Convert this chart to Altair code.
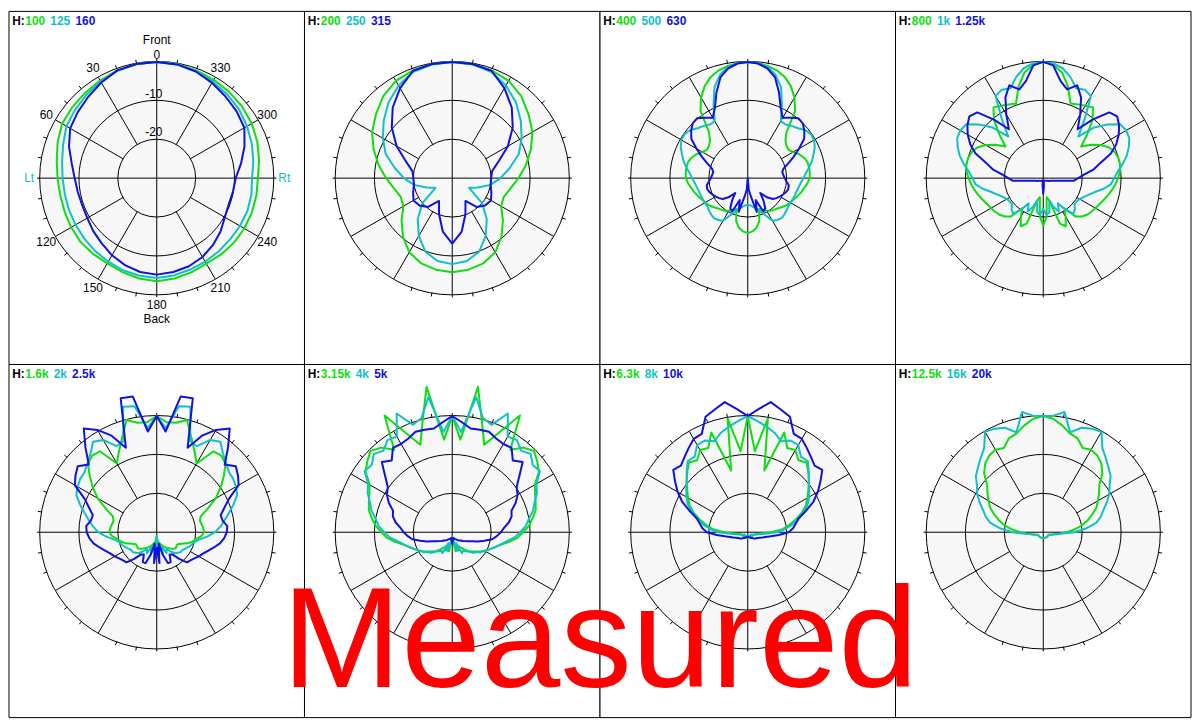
import math
import altair as alt
import pandas as pd

# ----------------------------------------------------------------- data
PANEL_FREQS = [
    ["100", "125", "160"],
    ["200", "250", "315"],
    ["400", "500", "630"],
    ["800", "1k", "1.25k"],
    ["1.6k", "2k", "2.5k"],
    ["3.15k", "4k", "5k"],
    ["6.3k", "8k", "10k"],
    ["12.5k", "16k", "20k"],
]

# Relative level in dB.
# Entry i is at angle i * 360 / len(list); 0 = Front, angles grow towards Lt.
DB_100 = [0, -0.1, -0.4, -0.9, -1.3, -1.6, -1.9, -2.9, -3.9, -4.5, -4.8, -4.8, -4.6, -4.4, -4.5, -4.6, -4.2, -3.7,
          -3.4, -3.7, -4.1, -4.5, -4.3, -4.1, -4.0, -4.0, -4.0, -4.0, -3.3, -2.5, -1.8, -1.3, -1.0, -0.7, -0.4, -0.1]
DB_125 = [0, -0.1, -0.5, -1.2, -1.9, -2.6, -3.2, -4.4, -5.3, -5.8, -6.0, -6.0, -5.9, -5.7, -5.4, -5.1, -4.7, -4.4,
          -4.2, -4.5, -4.9, -5.1, -5.3, -5.4, -5.3, -5.2, -5.3, -5.5, -4.8, -4.0, -3.2, -2.4, -1.8, -1.2, -0.6, -0.2]
DB_160 = [0, -0.1, -0.4, -1.5, -2.6, -3.5, -4.3, -6.0, -7.8, -8.9, -9.4, -9.6, -9.4, -8.7, -8.0, -7.0, -6.1, -5.4,
          -5.1, -5.4, -5.8, -6.5, -7.5, -8.6, -9.8, -10.3, -10.1, -9.7, -8.0, -6.0, -4.0, -3.2, -2.5, -1.6, -0.7, -0.2]

DB_200 = [0, -0.1, -0.4, -1.0, -2.4, -4.4, -6.2, -8.5, -10.8, -13.0, -14.8, -15.9, -15.5, -13.0, -10.3, -7.9, -6.6, -6.0,
          -5.7, -6.0, -6.6, -7.9, -10.3, -13.0, -15.5, -15.9, -14.8, -13.0, -10.8, -8.5, -6.2, -4.4, -2.4, -1.0, -0.4, -0.1]
DB_250 = [0, -0.2, -0.8, -2.4, -4.5, -7.0, -9.4, -11.8, -15.0, -17.6, -20.0, -23.0, -25.0, -20.0, -16.2, -12.8, -9.8, -8.3,
          -7.8, -8.3, -9.8, -12.8, -16.2, -20.0, -25.0, -23.0, -20.0, -17.6, -15.0, -11.8, -9.4, -7.0, -4.5, -2.4, -0.8, -0.2]
DB_315 = [0, -0.1, -0.5, -3.2, -6.2, -9.7, -13.5, -17.3, -19.6, -20.0, -20.0, -19.3, -18.5, -19.0, -20.3, -23.2, -20.1, -16.0,
          -13.1, -16.0, -20.1, -23.2, -20.3, -19.0, -18.5, -19.3, -20.0, -20.0, -19.6, -17.3, -13.5, -9.7, -6.2, -3.2, -0.5, -0.1]

DB_400 = [0, -0.2, -0.6, -1.2, -2.2, -3.8, -6.0, -8.8, -14.5, -16.3, -17.0, -17.2, -16.6, -15.4, -14.6, -14.1, -14.0, -14.0,
          -14.1, -14.6, -15.3, -15.8, -16.4, -17.0, -17.4, -17.8, -18.4, -19.0, -19.4, -19.7, -20.3, -21.0, -21.5, -18.5, -17.0, -16.2,
          -15.8, -16.2, -17.0, -18.5, -21.5, -21.0, -20.3, -19.7, -19.4, -19.0, -18.4, -17.8, -17.4, -17.0, -16.4, -15.8, -15.3, -14.6,
          -14.1, -14.0, -14.0, -14.1, -14.6, -15.4, -16.6, -17.2, -17.0, -16.3, -14.5, -8.8, -6.0, -3.8, -2.2, -1.2, -0.6, -0.2]
DB_500 = [0, -0.2, -0.8, -2.4, -5.0, -9.2, -13.0, -13.1, -12.4, -11.8, -10.7, -10.2, -10.3, -11.0, -12.0, -12.9, -14.0, -15.0,
          -15.7, -16.3, -16.7, -17.0, -17.1, -17.2, -17.3, -17.3, -17.0, -16.7, -16.5, -16.8, -17.3, -19.5, -21.0, -22.0, -22.5, -23.0,
          -23.0, -23.0, -22.5, -22.0, -21.0, -19.5, -17.3, -16.8, -16.5, -16.7, -17.0, -17.3, -17.3, -17.2, -17.1, -17.0, -16.7, -16.3,
          -15.7, -15.0, -14.0, -12.9, -12.0, -11.0, -10.3, -10.2, -10.7, -11.8, -12.4, -13.1, -13.0, -9.2, -5.0, -2.4, -0.8, -0.2]
DB_630 = [0, -0.3, -1.2, -3.0, -6.5, -10.0, -12.0, -11.0, -9.8, -10.0, -11.0, -12.3, -14.8, -17.0, -19.0, -20.5, -21.0, -20.8,
          -20.5, -20.0, -19.3, -19.2, -19.5, -20.0, -20.5, -21.0, -21.6, -23.0, -25.0, -23.0, -21.0, -20.5, -24.0, -21.0, -25.0, -27.0,
          -30.0, -27.0, -25.0, -21.0, -24.0, -20.5, -21.0, -23.0, -25.0, -23.0, -21.6, -21.0, -20.5, -20.0, -19.5, -19.2, -19.3, -20.0,
          -20.5, -20.8, -21.0, -20.5, -19.0, -17.0, -14.8, -12.3, -11.0, -10.0, -9.8, -11.0, -12.0, -10.0, -6.5, -3.0, -1.2, -0.3]

DB_800 = [0, -0.6, -2.3, -5.5, -9.5, -9.0, -8.4, -7.7, -10.3, -14.0, -17.3, -15.0, -12.9, -11.3, -10.4, -10.0, -9.9, -10.2,
          -10.8, -11.4, -12.1, -12.8, -13.5, -14.1, -14.5, -14.9, -15.3, -16.0, -17.1, -20.5, -18.5, -16.3, -17.5, -24.0, -25.0, -20.0,
          -17.8, -20.0, -25.0, -24.0, -17.5, -16.3, -18.5, -20.5, -17.1, -16.0, -15.3, -14.9, -14.5, -14.1, -13.5, -12.8, -12.1, -11.4,
          -10.8, -10.2, -9.9, -10.0, -10.4, -11.3, -12.9, -15.0, -17.3, -14.0, -10.3, -7.7, -8.4, -9.0, -9.5, -5.5, -2.3, -0.6]
DB_1K = [0, -0.3, -1.2, -3.0, -5.3, -4.8, -5.5, -11.5, -16.0, -11.5, -8.5, -5.8, -5.4, -5.6, -6.6, -7.8, -9.3, -10.8,
         -11.8, -12.5, -14.2, -16.2, -17.5, -18.5, -19.2, -19.5, -19.5, -18.5, -18.0, -20.0, -22.5, -20.5, -22.0, -24.0, -21.0, -20.5,
         -22.0, -20.5, -21.0, -24.0, -22.0, -20.5, -22.5, -20.0, -18.0, -18.5, -19.5, -19.5, -19.2, -18.5, -17.5, -16.2, -14.2, -12.5,
         -11.8, -10.8, -9.3, -7.8, -6.6, -5.6, -5.4, -5.8, -8.5, -11.5, -16.0, -11.5, -5.5, -4.8, -5.3, -3.0, -1.2, -0.3]
DB_1K25 = [0, -0.8, -4.5, -6.3, -4.5, -7.0, -11.0, -14.6, -10.3, -6.0, -5.2, -6.2, -7.6, -9.3, -11.5, -14.8, -16.8, -19.5,
           -21.0, -22.2, -26.0, -27.4, -28.0, -28.3, -28.6, -28.8, -28.9, -29.0, -29.1, -29.2, -29.2, -29.3, -29.3, -29.3, -29.3, -28.0,
           -26.0, -28.0, -29.3, -29.3, -29.3, -29.3, -29.2, -29.2, -29.1, -29.0, -28.9, -28.8, -28.6, -28.3, -28.0, -27.4, -26.0, -22.2,
           -21.0, -19.5, -16.8, -14.8, -11.5, -9.3, -7.6, -6.2, -5.2, -6.0, -10.3, -14.6, -11.0, -7.0, -4.5, -6.3, -4.5, -0.8]

DB_1K6 = [0, -1.5, -1.3, 0, -4.0, -7.0, -9.5, -4.5, -4.2, -5.0, -7.5, -10.0, -12.5, -15.5, -18.0, -18.5, -18.3, -18.0,
          -17.8, -18.5, -19.8, -20.5, -21.6, -23.0, -23.8, -23.8, -23.6, -24.0, -24.5, -25.0, -25.5, -26.0, -26.5, -27.0, -27.5, -28.0,
          -29.0, -28.0, -27.5, -27.0, -26.5, -26.0, -25.5, -25.0, -24.5, -24.0, -23.6, -23.8, -23.8, -23.0, -21.6, -20.5, -19.8, -18.5,
          -17.8, -18.0, -18.3, -18.5, -18.0, -15.5, -12.5, -10.0, -7.5, -5.0, -4.2, -4.5, -9.5, -7.0, -4.0, 0, -1.3, -1.5]
DB_2K = [0, -3.0, 3.0, 3.5, -5.0, -5.5, -2.5, -1.5, -3.5, -4.8, -5.8, -6.0, -6.5, -7.2, -9.0, -10.8, -12.3, -13.6,
         -15.0, -17.0, -19.0, -20.0, -20.5, -21.0, -21.5, -22.0, -22.0, -22.5, -23.0, -24.0, -25.0, -24.0, -26.0, -24.0, -27.0, -25.0,
         -29.0, -25.0, -27.0, -24.0, -26.0, -24.0, -25.0, -24.0, -23.0, -22.5, -22.0, -22.0, -21.5, -21.0, -20.5, -20.0, -19.0, -17.0,
         -15.0, -13.6, -12.3, -10.8, -9.0, -7.2, -6.5, -6.0, -5.8, -4.8, -3.5, -1.5, -2.5, -5.5, -5.0, 3.5, 3.0, -3.0]
DB_2K5 = [0, -3.9, 5.6, 5.8, -6.8, -2.5, 0.5, 2.7, -1.5, -5.3, -3.5, -4.5, -5.7, -9.5, -11.5, -13.0, -12.8, -11.8,
          -12.0, -12.6, -13.5, -14.8, -16.0, -16.9, -17.5, -18.2, -18.7, -19.0, -21.0, -23.0, -23.4, -21.5, -21.5, -24.0, -27.0, -22.0,
          -26.0, -22.0, -27.0, -24.0, -21.5, -21.5, -23.4, -23.0, -21.0, -19.0, -18.7, -18.2, -17.5, -16.9, -16.0, -14.8, -13.5, -12.6,
          -12.0, -11.8, -12.8, -13.0, -11.5, -9.5, -5.7, -4.5, -3.5, -5.3, -1.5, 2.7, 0.5, -2.5, -6.8, 5.8, 5.6, -3.9]

DB_3K15 = [0, -6.0, 8.1, -0.5, -6.0, -1.7, 4.8, -4.0, -1.5, -0.3, -1.5, -2.8, -5.5, -6.5, -7.2, -7.8, -9.0, -10.2,
           -11.8, -13.2, -15.3, -17.3, -18.5, -19.5, -20.3, -21.3, -22.3, -23.0, -23.7, -24.5, -25.3, -26.0, -25.0, -27.0, -25.0, -28.0,
           -29.0, -28.0, -25.0, -27.0, -25.0, -26.0, -25.3, -24.5, -23.7, -23.0, -22.3, -21.3, -20.3, -19.5, -18.5, -17.3, -15.3, -13.2,
           -11.8, -10.2, -9.0, -7.8, -7.2, -6.5, -5.5, -2.8, -1.5, -0.3, -1.5, -4.0, 4.8, -1.7, -6.0, -0.5, 8.1, -6.0]
DB_4K = [0, -4.0, 5.4, 0.5, -0.5, 3.8, -1.5, -1.0, -2.5, -1.5, -3.0, -2.5, -5.0, -6.0, -7.5, -8.5, -10.0, -11.0,
         -12.5, -14.0, -16.0, -17.3, -18.5, -19.5, -20.5, -21.0, -22.0, -22.5, -23.5, -24.0, -24.5, -24.0, -27.0, -25.0, -27.0, -28.0,
         -28.0, -28.0, -27.0, -25.0, -27.0, -24.0, -24.5, -24.0, -23.5, -22.5, -22.0, -21.0, -20.5, -19.5, -18.5, -17.3, -16.0, -14.0,
         -12.5, -11.0, -10.0, -8.5, -7.5, -6.0, -5.0, -2.5, -3.0, -1.5, -2.5, -1.0, -1.5, 3.8, -0.5, 0.5, 5.4, -4.0]
DB_5K = [0, -1.5, -2.8, -2.6, -2.4, -3.3, -3.7, -3.4, -5.8, -4.4, -7.5, -9.8, -10.6, -12.0, -13.8, -14.2, -15.2, -16.6,
         -17.5, -18.5, -19.6, -21.5, -23.0, -24.5, -25.3, -26.0, -26.5, -27.0, -27.2, -27.5, -27.8, -28.0, -28.2, -28.4, -28.5, -28.0,
         -27.0, -28.0, -28.5, -28.4, -28.2, -28.0, -27.8, -27.5, -27.2, -27.0, -26.5, -26.0, -25.3, -24.5, -23.0, -21.5, -19.6, -18.5,
         -17.5, -16.6, -15.2, -14.2, -13.8, -12.0, -10.6, -9.8, -7.5, -4.4, -5.8, -3.4, -3.7, -3.3, -2.4, -2.6, -2.8, -1.5]

DB_6K3 = [0, -9.0, -0.2, -13.5, -2.6, -6.0, -5.5, -7.3, -6.5, -8.0, -9.5, -11.0, -12.3, -13.5, -15.2, -17.2, -19.2, -21.0,
          -24.0, -26.5, -27.5, -28.0, -28.2, -28.3, -28.4, -28.5, -28.5, -28.5, -28.5, -28.5, -28.5, -28.5, -28.5, -28.5, -28.5, -28.5,
          -28.5, -28.5, -28.5, -28.5, -28.5, -28.5, -28.5, -28.5, -28.5, -28.5, -28.5, -28.5, -28.4, -28.3, -28.2, -28.0, -27.5, -26.5,
          -24.0, -21.0, -19.2, -17.2, -15.2, -13.5, -12.3, -11.0, -9.5, -8.0, -6.5, -7.3, -5.5, -6.0, -2.6, -13.5, -0.2, -9.0]
DB_8K = [0, -1.2, -2.3, -3.4, -5.0, -3.9, -4.0, -6.2, -6.0, -7.8, -9.5, -10.7, -11.8, -13.0, -14.8, -16.8, -18.3, -20.3,
         -22.5, -25.5, -27.0, -27.8, -28.2, -28.5, -28.7, -29.0, -29.0, -29.0, -29.0, -29.0, -29.0, -29.0, -29.0, -29.0, -29.0, -29.0,
         -29.0, -29.0, -29.0, -29.0, -29.0, -29.0, -29.0, -29.0, -29.0, -29.0, -29.0, -29.0, -28.7, -28.5, -28.2, -27.8, -27.0, -25.5,
         -22.5, -20.3, -18.3, -16.8, -14.8, -13.0, -11.8, -10.7, -9.5, -7.8, -6.0, -6.2, -4.0, -3.9, -5.0, -3.4, -2.3, -1.2]
DB_10K = [0, 1.9, 4.1, 2.8, 1.7, -2.0, -2.2, -3.5, -4.7, -5.7, -5.0, -7.2, -9.2, -11.4, -14.2, -16.5, -17.5, -18.3,
          -19.5, -22.0, -24.0, -25.3, -26.0, -26.6, -27.0, -27.3, -27.5, -27.7, -28.0, -28.2, -28.3, -28.5, -28.6, -28.7, -28.8, -28.8,
          -28.8, -28.8, -28.8, -28.7, -28.6, -28.5, -28.3, -28.2, -28.0, -27.7, -27.5, -27.3, -27.0, -26.6, -26.0, -25.3, -24.0, -22.0,
          -19.5, -18.3, -17.5, -16.5, -14.2, -11.4, -9.2, -7.2, -5.0, -5.7, -4.7, -3.5, -2.2, -2.0, 1.7, 2.8, 4.1, 1.9]

DB_12K5 = [0, -0.6, -2.0, -3.6, -4.2, -6.0, -5.4, -5.8, -6.8, -8.5, -11.2, -12.5, -13.8, -14.9, -16.6, -18.2, -20.0, -22.0,
           -24.0, -25.8, -27.0, -27.8, -28.2, -28.5, -28.5, -28.5, -28.5, -28.5, -28.5, -28.5, -28.5, -28.5, -28.5, -28.5, -28.5, -28.5,
           -28.5, -28.5, -28.5, -28.5, -28.5, -28.5, -28.5, -28.5, -28.5, -28.5, -28.5, -28.5, -28.5, -28.5, -28.2, -27.8, -27.0, -25.8,
           -24.0, -22.0, -20.0, -18.2, -16.6, -14.9, -13.8, -12.5, -11.2, -8.5, -6.8, -5.8, -5.4, -6.0, -4.2, -3.6, -2.0, -0.6]
DB_16K = [0, 0.2, 1.5, -3.3, -1.3, -0.5, -0.1, -3.5, -5.0, -6.3, -7.4, -9.2, -10.4, -12.0, -13.6, -14.7, -16.2, -19.0,
          -22.0, -25.5, -27.0, -27.5, -28.0, -28.3, -28.5, -28.5, -28.5, -28.5, -28.5, -28.5, -28.5, -28.5, -28.5, -28.5, -28.5, -28.5,
          -28.5, -28.5, -28.5, -28.5, -28.5, -28.5, -28.5, -28.5, -28.5, -28.5, -28.5, -28.5, -28.5, -28.3, -28.0, -27.5, -27.0, -25.5,
          -22.0, -19.0, -16.2, -14.7, -13.6, -12.0, -10.4, -9.2, -7.4, -6.3, -5.0, -3.5, -0.1, -0.5, -1.3, -3.3, 1.5, 0.2]

# (panel, series slot, values)
CURVES = [
    (0, 0, DB_100), (0, 1, DB_125), (0, 2, DB_160),
    (1, 0, DB_200), (1, 1, DB_250), (1, 2, DB_315),
    (2, 0, DB_400), (2, 1, DB_500), (2, 2, DB_630),
    (3, 0, DB_800), (3, 1, DB_1K), (3, 2, DB_1K25),
    (4, 0, DB_1K6), (4, 1, DB_2K), (4, 2, DB_2K5),
    (5, 0, DB_3K15), (5, 1, DB_4K), (5, 2, DB_5K),
    (6, 0, DB_6K3), (6, 1, DB_8K), (6, 2, DB_10K),
    (7, 0, DB_12K5), (7, 1, DB_16K),
]

ANGLE_LABEL_TEXT = ["Front", "0", "30", "60", "Lt", "120", "150", "180", "Back", "210", "240", "Rt", "300", "330"]
ANGLE_LABEL_DEG = [0, 0, 30, 60, 90, 120, 150, 180, 180, 210, 240, 270, 300, 330]
DB_LABEL_TEXT = ["-10", "-20"]
DB_LABEL_LEVEL = [-10, -20]
GRID_LEVELS = [0, -10, -20]
DB_FLOOR = -30
HEADER_PREFIX = "H:"
WATERMARK = "Measured"

# ------------------------------------------------- styles and layout
SERIES_NAMES = ["s0", "s1", "s2"]
SERIES_COLORS = ["#10dd10", "#10c0c8", "#1010e0"]
LR_COLOR = "#10c0c8"
DISC_FILL = "#f7f7f7"
FONT = "Liberation Sans"

PANEL_W, PANEL_H = 300, 360          # layout units (reference pixels)
TOTAL_W, TOTAL_H = 1200, 720
CENTER_Y = [170, 171]
R_OUT = 118.5
TICK_LEN = 4
AXIS_EXT = 3
CHART_W, CHART_H = 1190, 711

LABEL_R_OFFSET = {"Front": 22.5, "0": 7.5, "180": 10.5, "Back": 25.5}
LABEL_R_DEFAULT = 11


def center(p):
    col, row = p % 4, p // 4
    return col * PANEL_W + PANEL_W / 2, row * PANEL_H + CENTER_Y[row]


def level_radius(level):
    return R_OUT * (level - DB_FLOOR) / (-DB_FLOOR)


# curves
rows = []
for p, s, vals in CURVES:
    n = len(vals)
    assert n in (36, 72), (p, s, n)
    cx, cy = center(p)
    for k in range(n + 1):
        rows.append({"curve": f"{p}-{s}", "series": SERIES_NAMES[s], "k": k,
                     "ang": k * 360.0 / n, "db": vals[k % n], "cx": cx, "cy": cy})
curve_df = pd.DataFrame(rows)

# panels, discs, rings, spokes, ticks
frame_rows, disc_rows, ring_rows, grid_rows = [], [], [], []
for p in range(8):
    col, row = p % 4, p // 4
    cx, cy = center(p)
    frame_rows.append({"x0": col * PANEL_W, "x1": (col + 1) * PANEL_W,
                       "y0": row * PANEL_H, "y1": (row + 1) * PANEL_H})
    disc_rows.append({"cx": cx, "cy": cy, "rad": R_OUT})
    for lvl in GRID_LEVELS:
        ring_rows.append({"cx": cx, "cy": cy, "rad": level_radius(lvl)})
    r_in = level_radius(GRID_LEVELS[-1])
    for a in range(0, 360, 30):
        if a % 90:
            grid_rows.append({"cx": cx, "cy": cy, "ang": a, "r0": r_in, "r1": R_OUT})
    for a in (0, 90):
        grid_rows.append({"cx": cx, "cy": cy, "ang": a, "r0": -(R_OUT + AXIS_EXT), "r1": R_OUT + AXIS_EXT})
    for a in range(0, 360, 10):
        if a % 30:
            grid_rows.append({"cx": cx, "cy": cy, "ang": a, "r0": R_OUT, "r1": R_OUT + TICK_LEN})
frame_df = pd.DataFrame(frame_rows)
disc_df = pd.DataFrame(disc_rows)
ring_df = pd.DataFrame(ring_rows)
grid_df = pd.DataFrame(grid_rows)

# panel headers "H: f1 f2 f3"
CHAR_W = {".": 3.33}
DIGIT_W = 6.67
head_rows = []
for p, freqs in enumerate(PANEL_FREQS):
    col, row = p % 4, p // 4
    x0, y0 = col * PANEL_W, row * PANEL_H
    head_rows.append({"x": x0 + 3.2, "y": y0 + 14, "tok": HEADER_PREFIX, "hex": "#000000"})
    xs = x0 + 16.6
    for s, f in enumerate(freqs):
        head_rows.append({"x": xs, "y": y0 + 14, "tok": f, "hex": SERIES_COLORS[s]})
        xs += sum(CHAR_W.get(c, DIGIT_W) for c in f) + 5.4
head_df = pd.DataFrame(head_rows)

# labels of the first panel
cx0, cy0 = center(0)
lab_rows = []
for t, a in zip(ANGLE_LABEL_TEXT, ANGLE_LABEL_DEG):
    lab_rows.append({"cx": cx0, "cy": cy0, "ang": a, "rr": R_OUT + LABEL_R_OFFSET.get(t, LABEL_R_DEFAULT),
                     "xo": 0, "txt": t, "hex": LR_COLOR if t in ("Lt", "Rt") else "#000000"})
for t, lvl in zip(DB_LABEL_TEXT, DB_LABEL_LEVEL):
    lab_rows.append({"cx": cx0, "cy": cy0, "ang": 0, "rr": level_radius(lvl) + 7,
                     "xo": -3, "txt": t, "hex": "#000000"})
lab_df = pd.DataFrame(lab_rows)

wm_df = pd.DataFrame([{"x": 600, "y": 689, "txt": WATERMARK}])

# ------------------------------------------------------------ chart
XS = alt.Scale(domain=[0, TOTAL_W], nice=False, zero=False)
YS = alt.Scale(domain=[0, TOTAL_H], reverse=True, nice=False, zero=False)
RS = alt.Scale(type="linear", domain=[0, TOTAL_W], range=[0, CHART_W], zero=True, nice=False)


def X(f):
    return alt.X(f"{f}:Q", scale=XS, axis=None)


def Y(f):
    return alt.Y(f"{f}:Q", scale=YS, axis=None)


def polar(chart, rfield, xo, yo):
    return chart.transform_calculate(
        **{xo: f"datum.cx - datum.{rfield} * sin(datum.ang * PI / 180)"}
    ).transform_calculate(
        **{yo: f"datum.cy - datum.{rfield} * cos(datum.ang * PI / 180)"}
    )


frames = alt.Chart(frame_df).mark_rect(fill="white", stroke="black", strokeWidth=1).encode(
    x=X("x0"), x2="x1:Q", y=Y("y0"), y2="y1:Q")

discs = alt.Chart(disc_df).mark_arc(theta=0, theta2=2 * math.pi, fill=DISC_FILL).encode(
    x=X("cx"), y=Y("cy"), radius=alt.Radius("rad:Q", scale=RS, stack=None))

rings = alt.Chart(ring_df).mark_arc(theta=0, theta2=2 * math.pi, filled=False, color="black",
                                    strokeWidth=1).encode(
    x=X("cx"), y=Y("cy"), radius=alt.Radius("rad:Q", scale=RS, stack=None))

grid = polar(polar(alt.Chart(grid_df), "r0", "gx0", "gy0"), "r1", "gx1", "gy1").mark_rule(
    color="black", strokeWidth=1).encode(x=X("gx0"), y=Y("gy0"), x2="gx1:Q", y2="gy1:Q")

curves = polar(
    alt.Chart(curve_df).transform_calculate(
        rr=f"max(0, datum.db - ({DB_FLOOR})) * {R_OUT} / {-DB_FLOOR}"),
    "rr", "px", "py",
).mark_line(strokeWidth=2, strokeJoin="round").encode(
    x=X("px"), y=Y("py"),
    color=alt.Color("series:N", scale=alt.Scale(domain=SERIES_NAMES, range=SERIES_COLORS), legend=None),
    detail="curve:N",
    order="k:Q",
)

headers = alt.Chart(head_df).mark_text(align="left", baseline="alphabetic", font=FONT,
                                       fontSize=12, fontWeight="bold").encode(
    x=X("x"), y=Y("y"), text="tok:N", fill=alt.Fill("hex:N", scale=None))

labels = polar(alt.Chart(lab_df), "rr", "lx0", "ly").transform_calculate(
    lx="datum.lx0 + datum.xo").mark_text(align="center", baseline="middle", font=FONT, fontSize=12).encode(
    x=X("lx"), y=Y("ly"), text="txt:N", fill=alt.Fill("hex:N", scale=None))

watermark = alt.Chart(wm_df).mark_text(align="center", baseline="alphabetic", font=FONT,
                                       fontSize=144, color="#ff0000").encode(
    x=X("x"), y=Y("y"), text="txt:N")

chart = alt.layer(frames, discs, rings, grid, headers, labels, curves, watermark).properties(
    width=CHART_W, height=CHART_H, padding=1,
    autosize=alt.AutoSizeParams(type="none"),
).configure_view(strokeWidth=0)

chart.save("out.html", embed_options={"renderer": "svg", "actions": False})
